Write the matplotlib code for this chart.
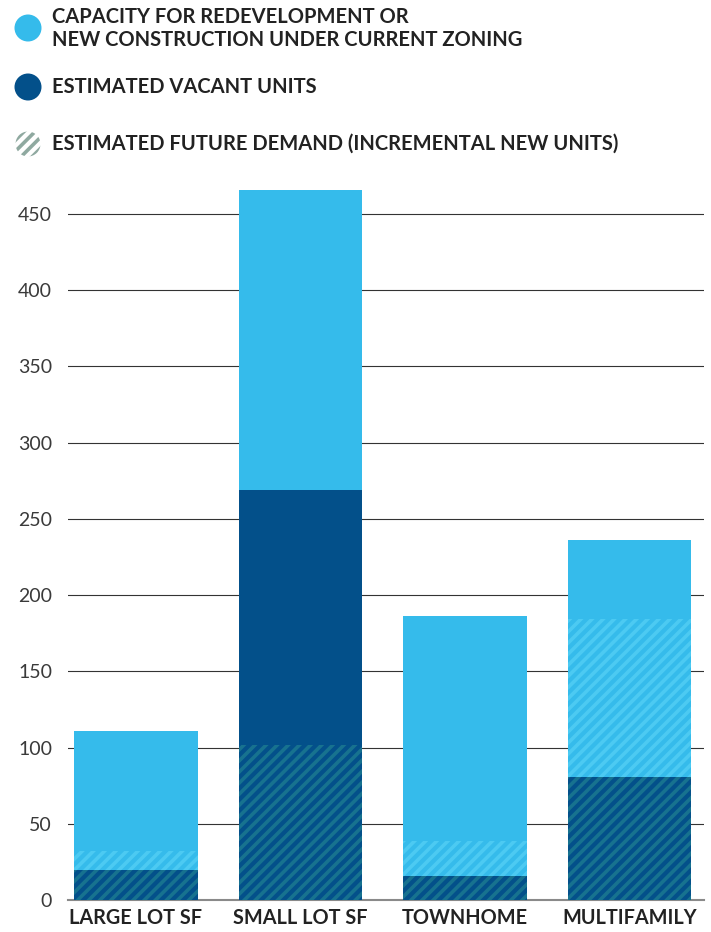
import matplotlib.pyplot as plt
from matplotlib.patches import Circle

# Datos
categories = ['LARGE LOT SF', 'SMALL LOT SF', 'TOWNHOME', 'MULTIFAMILY']
capacity = [111, 466, 186, 236]
vacant = [20, 269, 16, 81]
demand = [32, 102, 39, 184]
yticks = [0, 50, 100, 150, 200, 250, 300, 350, 400, 450]

light = '#35bbeb'
dark = '#03508a'
hatch_dark = '#17728f'
hatch_light = '#4ccaf2'

plt.rcParams['font.family'] = ['Lato', 'DejaVu Sans']
plt.rcParams['hatch.linewidth'] = 2.6

fig = plt.figure(figsize=(7.11, 9.32), dpi=100)
ax = fig.add_axes([68 / 711, 32 / 932, 636 / 711, 716.5 / 932])

x = list(range(len(categories)))
w = 0.75

# Barras base
ax.bar(x, capacity, width=w, color=light, zorder=2)
ax.bar(x, vacant, width=w, color=dark, zorder=3)

# Demanda futura con rayado (parte sobre vacantes y parte sobre capacidad)
over_dark = [min(d, v) for d, v in zip(demand, vacant)]
over_light = [max(d - v, 0) for d, v in zip(demand, vacant)]
ax.bar(x, over_dark, width=w, facecolor='none', edgecolor=hatch_dark,
       hatch='///', linewidth=0, zorder=4)
ax.bar(x, over_light, width=w, bottom=over_dark, facecolor='none',
       edgecolor=hatch_light, hatch='///', linewidth=0, zorder=4)

ax.set_xlim(-0.413, 3.453)
ax.set_ylim(0, 470)
ax.set_yticks(yticks)
ax.set_yticklabels([str(t) for t in yticks], fontsize=14, color='#3a3a3a')
ax.set_xticks(x)
ax.set_xticklabels(categories, fontsize=14.3, fontweight='bold', color='#222222')
ax.tick_params(axis='y', length=0, pad=11.5)
ax.tick_params(axis='x', length=0, pad=6)

ax.grid(axis='y', color='#333333', linewidth=0.8)
ax.set_axisbelow(True)
for s in ['top', 'right', 'left']:
    ax.spines[s].set_visible(False)
ax.spines['bottom'].set_color('#8a8a8a')
ax.spines['bottom'].set_linewidth(1.5)


# Leyenda manual
def fy(py):
    return 1 - py / 932


def fx(px):
    return px / 711


r = 13.5
fig.patches.append(Circle((28, 932 - 28), r, transform=None,
                          facecolor=light, edgecolor='none'))
fig.patches.append(Circle((28, 932 - 87), r, transform=None,
                          facecolor=dark, edgecolor='none'))
fig.patches.append(Circle((28, 932 - 144), r - 1, transform=None,
                          facecolor='none', edgecolor='#8fa9a0', hatch='///',
                          linewidth=0))

tkw = dict(fontsize=14.5, fontweight='bold', color='#222222', va='center', ha='left')
fig.text(fx(52), fy(17), 'CAPACITY FOR REDEVELOPMENT OR', **tkw)
fig.text(fx(52), fy(40), 'NEW CONSTRUCTION UNDER CURRENT ZONING', **tkw)
fig.text(fx(52), fy(87), 'ESTIMATED VACANT UNITS', **tkw)
fig.text(fx(52), fy(144), 'ESTIMATED FUTURE DEMAND (INCREMENTAL NEW UNITS)', **tkw)

fig.savefig('out.png', dpi=100)
